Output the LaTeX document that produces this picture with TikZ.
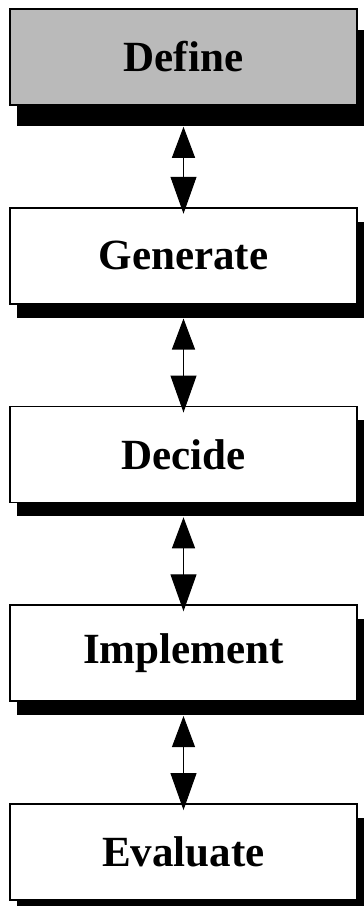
\documentclass[tikz,border=0pt]{standalone}
\usepackage{fontspec}
\setmainfont{Liberation Serif}
\usetikzlibrary{arrows.meta, positioning, shadows}
\tikzset{%
	box/.style={draw, line width=1pt, rectangle, minimum width=6.94cm, minimum height=1.92cm,%
		inner sep=0mm, fill=white, font=\fontsize{24.5}{29}\selectfont\bfseries, node distance=2.02cm},
	stage/.style={box, drop shadow={shadow xshift=0.15cm, shadow yshift=-0.28cm, fill=black, opacity=1}},
	startstage/.style={box, fill=black!27, drop shadow={shadow xshift=0.15cm, shadow yshift=-0.42cm, fill=black, opacity=1}},
	link/.style={{Triangle[width=4.6mm,length=6.2mm]}-{Triangle[width=5.2mm,length=7.4mm]}, line width=0.6pt, shorten >=-0.14cm}
}
\begin{document}
\begin{tikzpicture}
	\useasboundingbox (0,0) rectangle (7.28,-18.12);

	\node[startstage, anchor=north] (def) at (3.67,-0.16) {Define};
	\node[stage, below=of def] (gen) {Generate};
	\node[stage, below=of gen] (dec) {Decide};
	\node[stage, below=of dec] (imp) {Implement};
	\node[stage, below=of imp] (eva) {Evaluate};

	\draw[link] ([yshift=-0.42cm]def.south) -- (gen.north);
	\draw[link] ([yshift=-0.28cm]gen.south) -- (dec.north);
	\draw[link] ([yshift=-0.28cm]dec.south) -- (imp.north);
	\draw[link] ([yshift=-0.28cm]imp.south) -- (eva.north);

\end{tikzpicture}
\end{document}
